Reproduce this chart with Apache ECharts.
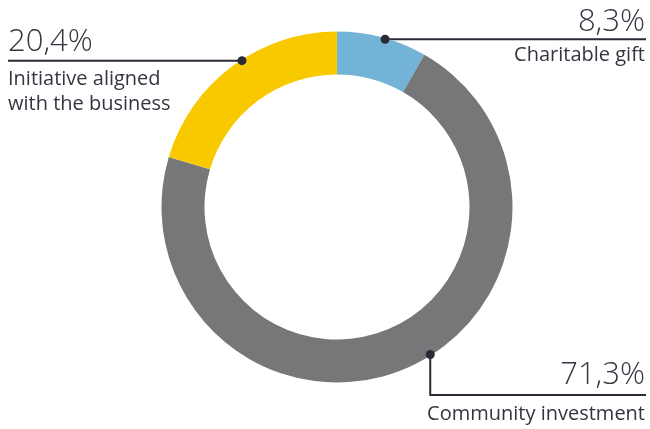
<!DOCTYPE html>
<html>
<head>
<meta charset="utf-8">
<script src="https://cdn.jsdelivr.net/npm/echarts@6/dist/echarts.min.js"></script>
<style>html,body{margin:0;padding:0;background:#fff;}#c{width:650px;height:429px;}</style>
</head>
<body>
<div id="c"></div>
<script>
const categories = ['Charitable gift', 'Community investment', 'Initiative aligned\nwith the business'];
const values = [8.3, 71.3, 20.4];
const valueLabels = ['8,3%', '71,3%', '20,4%'];

const colors = ['#73b3d8', '#767779', '#f9c900'];
const CX = 337, CY = 207, R_IN = 132.5, R_OUT = 175.5;
const FONT = 'Open Sans';
const TXT = '#353541';
const LINE = '#2b2b36';
// anchor (dot) angles in degrees clockwise from top, and label geometry
const dotAng = [16, 147.7, -33];
const dotR = 174.5;
function dotPos(i) {
  const a = dotAng[i] * Math.PI / 180;
  return [CX + dotR * Math.sin(a), CY - dotR * Math.cos(a)];
}
const lineHeights = [41, 55, 51];
const labelTops = [2, 347.5, 16.5];

const chart = echarts.init(document.getElementById('c'), null, {renderer: 'canvas'});
const data = categories.map((name, i) => ({
  name: name,
  value: values[i],
  itemStyle: {color: colors[i]},
  label: {
    formatter: '{v|' + valueLabels[i] + '}\n{n|' + name + '}',
    align: i === 2 ? 'left' : 'right',
    rich: {
      v: {fontFamily: FONT, fontWeight: 300, fontSize: 31, lineHeight: lineHeights[i], color: TXT, align: i === 2 ? 'left' : 'right'},
      n: {fontFamily: FONT, fontSize: 20, lineHeight: 24.5, color: TXT, align: i === 2 ? 'left' : 'right'}
    }
  }
}));

chart.setOption({
  animation: false,
  series: [{
    type: 'pie',
    center: [CX, CY],
    radius: [R_IN, R_OUT],
    startAngle: 90,
    clockwise: true,
    silent: true,
    data: data,
    label: {show: true, position: 'outside', color: TXT, fontFamily: FONT, overflow: 'none', width: 400},
    labelLine: {show: true, lineStyle: {color: LINE, width: 2}},
    labelLayout: function (p) {
      const i = p.dataIndex;
      const d = dotPos(i);
      let pts;
      if (i === 0) pts = [d, [646, d[1]], [646, d[1]]];
      else if (i === 1) pts = [d, [d[0], 395], [646, 395]];
      else pts = [d, [8, d[1]], [8, d[1]]];
      return {
        x: i === 2 ? 8 : 645,
        y: labelTops[i],
        align: i === 2 ? 'left' : 'right',
        verticalAlign: 'top',
        labelLinePoints: pts
      };
    }
  }],
  graphic: categories.map((n, i) => {
    const d = dotPos(i);
    return {type: 'circle', z: 100, shape: {cx: d[0], cy: d[1], r: 4.5}, style: {fill: LINE}};
  })
});
</script>
</body>
</html>
